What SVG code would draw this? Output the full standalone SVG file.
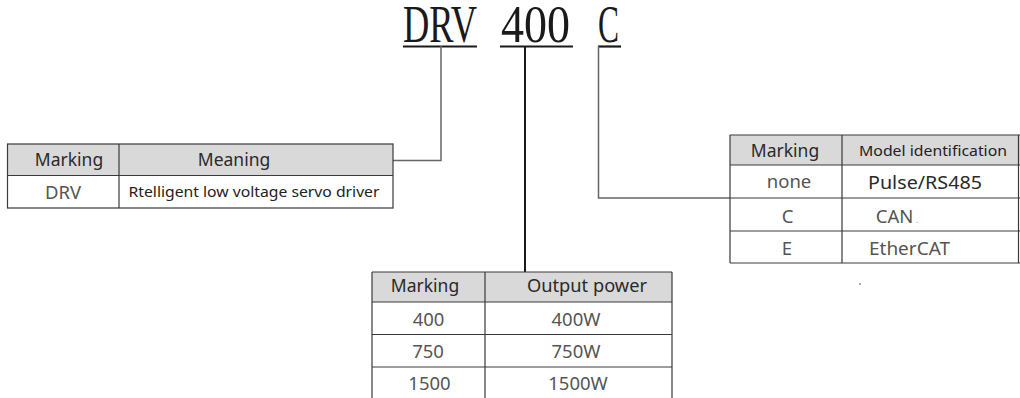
<svg xmlns="http://www.w3.org/2000/svg" width="1020" height="398" viewBox="0 0 1020 398">
<style>
.title{font-family:"Liberation Serif","DejaVu Serif",serif;font-size:53px;fill:#1a1a1a}
.ul{stroke:#1a1a1a;stroke-width:2.2}
.hdr{fill:#d9d9d9}
.grid{stroke:#3a3a3a;stroke-width:1.2;fill:none}
.h{font-family:"Noto Sans","Open Sans",sans-serif;font-size:17.5px;fill:#2a2a2a;text-anchor:middle}
.hs{font-family:"Noto Sans","Open Sans",sans-serif;font-size:14px;fill:#2a2a2a;text-anchor:middle}
.d{font-family:"Noto Sans","Open Sans",sans-serif;font-size:18.5px;fill:#555;text-anchor:middle}
.ds{font-family:"Noto Sans","Open Sans",sans-serif;font-size:14px;fill:#222;text-anchor:middle}
.con{fill:none;stroke:#666;stroke-width:1.5}
</style>
<rect width="1020" height="398" fill="#fff"/>
<g id="title">
<text class="title" x="403" y="42" textLength="74" lengthAdjust="spacingAndGlyphs">DRV</text>
<text class="title" x="501" y="42" textLength="69" lengthAdjust="spacingAndGlyphs">400</text>
<text class="title" x="598" y="42" textLength="21" lengthAdjust="spacingAndGlyphs">C</text>
<line class="ul" x1="403" y1="46.5" x2="477" y2="46.5"/>
<line class="ul" x1="500" y1="46.5" x2="573" y2="46.5"/>
<line class="ul" x1="598" y1="46.5" x2="621" y2="46.5"/>
</g>
<g id="connectors">
<polyline class="con" points="441,46 441,160.5 393,160.5"/>
<line x1="525" y1="46" x2="525" y2="272" stroke="#1a1a1a" stroke-width="2"/>
<polyline class="con" points="598.5,46 598.5,198 730,198"/>
</g>
<g id="table-drv">
<rect class="hdr" x="7.5" y="144" width="385.5" height="31.5"/>
<rect class="grid" x="7.5" y="144" width="385.5" height="64"/>
<line class="grid" x1="7.5" y1="175.5" x2="393" y2="175.5"/>
<line class="grid" x1="119" y1="144" x2="119" y2="208"/>
<text class="h" x="69" y="166" font-size="18">Marking</text>
<text class="h" x="234" y="166" font-size="18.5">Meaning</text>
<text class="d" x="63" y="199">DRV</text>
<text class="ds" x="254" y="197" textLength="251" lengthAdjust="spacingAndGlyphs">Rtelligent low voltage servo driver</text>
</g>
<g id="table-model">
<rect class="hdr" x="730" y="135" width="290" height="30"/>
<line class="grid" x1="730" y1="135" x2="1020" y2="135"/>
<line class="grid" x1="730" y1="165" x2="1020" y2="165"/>
<line class="grid" x1="730" y1="198" x2="1020" y2="198"/>
<line class="grid" x1="730" y1="231" x2="1020" y2="231"/>
<line class="grid" x1="730" y1="263" x2="1020" y2="263"/>
<line class="grid" x1="730" y1="135" x2="730" y2="263"/>
<line class="grid" x1="842" y1="135" x2="842" y2="263"/>
<line class="grid" x1="1018.5" y1="135" x2="1018.5" y2="263"/>
<text class="h" x="785" y="157">Marking</text>
<text class="ds" x="933" y="156" textLength="148" lengthAdjust="spacingAndGlyphs">Model identification</text>
<text class="d" x="789" y="188" fill="#333">none</text>
<text class="h" x="925" y="189" textLength="114" lengthAdjust="spacingAndGlyphs">Pulse/RS485</text>
<text class="d" x="787.5" y="223">C</text>
<text class="d" x="897" y="223"><tspan>CAN</tspan><tspan font-size="9" fill="#aaa"> .</tspan></text>
<text class="d" x="787" y="255">E</text>
<text class="d" x="909.5" y="255" textLength="81" lengthAdjust="spacingAndGlyphs">EtherCAT</text>
<rect x="859" y="283" width="2" height="2" fill="#aaa"/>
</g>
<g id="table-power">
<rect class="hdr" x="372" y="272" width="300" height="30"/>
<line class="grid" x1="372" y1="272" x2="672" y2="272"/>
<line class="grid" x1="372" y1="302" x2="672" y2="302"/>
<line class="grid" x1="372" y1="334.5" x2="672" y2="334.5"/>
<line class="grid" x1="372" y1="367" x2="672" y2="367"/>
<line class="grid" x1="372" y1="272" x2="372" y2="398"/>
<line class="grid" x1="485" y1="272" x2="485" y2="398"/>
<line class="grid" x1="672" y1="272" x2="672" y2="398"/>
<text class="h" x="425" y="292">Marking</text>
<text class="h" x="587" y="292" textLength="120" lengthAdjust="spacingAndGlyphs">Output power</text>
<text class="d" x="428.5" y="326" font-size="19.5">400</text>
<text class="d" x="576" y="326" font-size="19.5">400W</text>
<text class="d" x="428" y="358" font-size="19.5">750</text>
<text class="d" x="576" y="358" font-size="19.5">750W</text>
<text class="d" x="429.5" y="390" font-size="19.5">1500</text>
<text class="d" x="578" y="390" font-size="19.5">1500W</text>
</g>
</svg>
